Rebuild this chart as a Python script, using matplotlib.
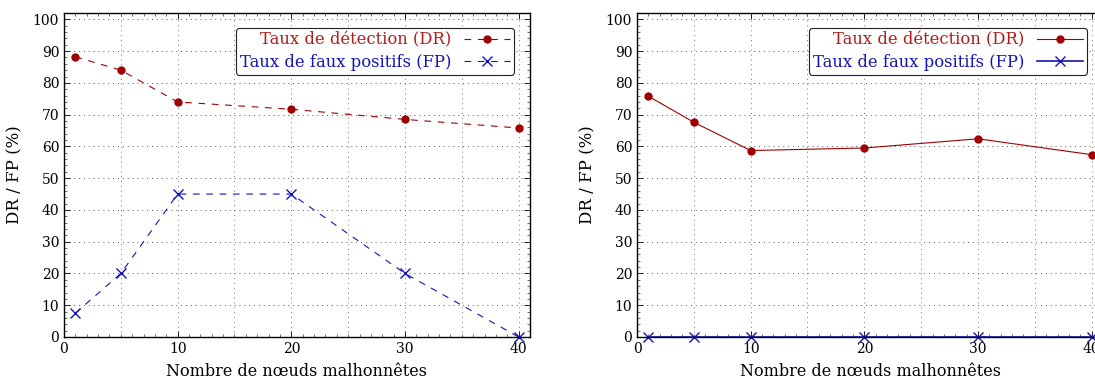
import matplotlib.pyplot as plt
from matplotlib.ticker import MultipleLocator

plt.rcParams['font.family'] = 'DejaVu Serif'

nodes = [1, 5, 10, 20, 30, 40]

# left panel (dashed)
dr_left = [88.2, 84.0, 74.0, 71.7, 68.5, 65.8]
fp_left = [7.5, 20.0, 45.0, 45.0, 20.0, 0.0]

# right panel (solid)
dr_right = [75.8, 67.6, 58.7, 59.5, 62.4, 57.4]
fp_right = [0.0, 0.0, 0.0, 0.0, 0.0, 0.0]

red = '#a00000'
red_txt = '#b01c1c'
blue = '#1414b4'

W, H = 1095, 383
fig = plt.figure(figsize=(W / 100, H / 100), dpi=100)

ax1 = fig.add_axes([64 / W, 46 / H, 466 / W, 324 / H])
ax2 = fig.add_axes([637 / W, 46 / H, 466 / W, 324 / H])


def style(ax):
    ax.set_xlim(0, 41)
    ax.set_ylim(0, 102)
    ax.xaxis.set_major_locator(MultipleLocator(10))
    ax.xaxis.set_minor_locator(MultipleLocator(1))
    ax.yaxis.set_major_locator(MultipleLocator(10))
    ax.yaxis.set_minor_locator(MultipleLocator(2))
    ax.tick_params(which='both', direction='in', top=True, right=True,
                   labelsize=10, colors='black')
    ax.tick_params(which='major', length=4, width=0.6)
    ax.tick_params(which='minor', length=2, width=0.4)
    ax.grid(True, axis='y', which='major', linestyle=(0, (1, 4)),
            color='#555555', linewidth=0.7)
    for v in range(5, 41, 5):
        ax.axvline(v, linestyle=(0, (1, 4)), color='#777777', linewidth=0.7, zorder=0)
    for s in ax.spines.values():
        s.set_linewidth(1.0)
    ax.set_xlabel('Nombre de nœuds malhonnêtes', fontsize=11.5, labelpad=5)
    ax.set_ylabel('DR / FP (%)', fontsize=12, labelpad=7)


style(ax1)
style(ax2)

ax1.plot(nodes, dr_left, color=red, linestyle=(0, (6, 6)), linewidth=0.8,
         marker='o', markersize=5, label='Taux de détection (DR)', clip_on=False)
ax1.plot(nodes, fp_left, color=blue, linestyle=(0, (6, 6)), linewidth=0.8,
         marker='x', markersize=7.5, markeredgewidth=1.0,
         label='Taux de faux positifs (FP)', clip_on=False)

ax2.plot(nodes, dr_right, color=red, linestyle='-', linewidth=0.8,
         marker='o', markersize=5, label='Taux de détection (DR)', clip_on=False)
ax2.plot(nodes, fp_right, color=blue, linestyle='-', linewidth=1.2,
         marker='x', markersize=7.5, markeredgewidth=1.0,
         label='Taux de faux positifs (FP)', clip_on=False)

for ax in (ax1, ax2):
    leg = ax.legend(loc='upper right', bbox_to_anchor=(0.966, 0.955),
                    markerfirst=False, fontsize=11.8, frameon=True,
                    fancybox=True, framealpha=1, edgecolor='#222222',
                    handlelength=2.8, borderpad=0.25, labelspacing=0.3,
                    handletextpad=0.8, borderaxespad=0)
    leg.get_frame().set_linewidth(0.8)
    leg.texts[0].set_color(red_txt)
    leg.texts[1].set_color(blue)

fig.savefig('out.png', dpi=100)
